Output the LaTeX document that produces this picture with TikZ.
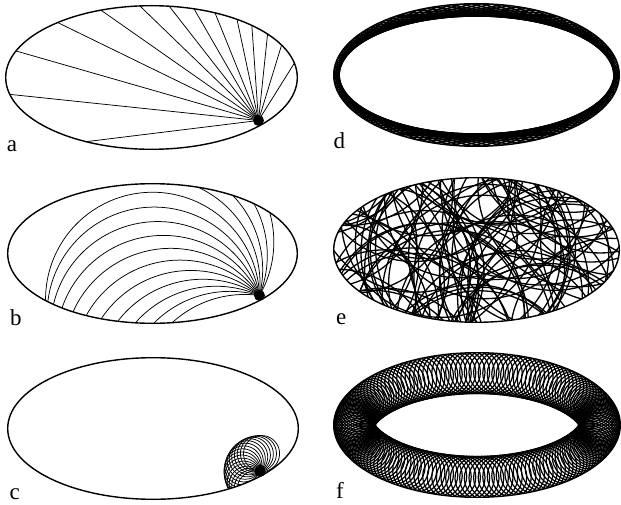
\documentclass[tikz,border=0pt]{standalone}
\usepackage{fontspec}
\setmainfont{Liberation Serif}

% trace one arc of radius #3 from the source (#1,#2), start heading #4,
% turning left, until it leaves the ellipse \A x \B
\newcommand{\tracearc}[4]{%
  \xdef\pts{(#1,#2)}\xdef\go{1}%
  \foreach \t in {2,4,...,360}{%
    \ifnum\go=1
      \pgfmathsetmacro\px{#1-#3*sin(#4)+#3*sin(#4+\t)}%
      \pgfmathsetmacro\py{#2+#3*cos(#4)-#3*cos(#4+\t)}%
      \pgfmathtruncatemacro\ins{(\px/\A)^2+(\py/\B)^2<1}%
      \xdef\pts{\pts -- (\px,\py)}\xdef\go{\ins}%
    \fi}%
  \edef\tmp{\noexpand\draw[orbit] \pts;}\tmp}

\begin{document}
\begin{tikzpicture}[x=1pt,y=1pt,
    rim/.style={line width=1.4pt},
    ray/.style={line width=0.75pt},
    orbit/.style={line width=0.75pt},
    gallery/.style={line width=1.5pt},
    tangle/.style={line width=1.3pt},
    skip/.style={line width=1.2pt},
    panel/.style={font=\fontsize{23}{23}\selectfont,anchor=base west,inner sep=0pt}
  ]
  \path[use as bounding box] (0,0) rectangle (621,504);

  % a: no field, straight rays
  \begin{scope}[shift={(151.5,426.5)}]
    \def\A{145.8}\def\B{71.8}
    \coordinate (srcA) at (107,-43);
    \begin{scope}
      \clip (0,0) ellipse[x radius=\A,y radius=\B];
      \foreach \h in {58,73,84,94,102,112,120,128,136,145,154,164,174,187}
        \draw[ray] (srcA) -- ++(\h:400);
    \end{scope}
    \draw[rim] (0,0) ellipse[x radius=\A,y radius=\B];
    \fill (srcA) circle[radius=5.5];
  \end{scope}
  \node[panel] (labA) at (6.7,352.3) {a};

  % b: weak field
  \begin{scope}[shift={(152.5,250.5)}]
    \def\A{144.8}\def\B{69.8}
    \coordinate (srcB) at (107,-42);
    \begin{scope}
      \clip (0,0) ellipse[x radius=\A,y radius=\B];
      \foreach \h in {60,68,...,172}{\tracearc{107}{-42}{107}{\h}}
    \end{scope}
    \draw[rim] (0,0) ellipse[x radius=\A,y radius=\B];
    \fill (srcB) circle[radius=5.5];
  \end{scope}
  \node[panel] (labB) at (10,179) {b};

  % c: strong field
  \begin{scope}[shift={(153,75.5)}]
    \def\A{145.3}\def\B{70.8}
    \coordinate (srcC) at (107,-43);
    \begin{scope}
      \clip (0,0) ellipse[x radius=\A,y radius=\B];
      \foreach \h in {-15,-5,...,165}{\tracearc{107}{-43}{18}{\h}}
    \end{scope}
    \draw[rim] (0,0) ellipse[x radius=\A,y radius=\B];
    \fill (srcC) circle[radius=5.5];
  \end{scope}
  \node[panel] (labC) at (9.3,4.5) {c};

  % d: whispering gallery
  \begin{scope}[shift={(476.5,429)}]
    \def\A{142.8}\def\B{71.3}
    \begin{scope}
      \clip (0,0) ellipse[x radius=\A,y radius=\B];
      \foreach \t in {0,3.6,...,356}
        \draw[gallery] ({137.2*cos(\t)+1.2*137.2*sin(\t)},{59*sin(\t)-1.2*59*cos(\t)})
          -- ({137.2*cos(\t)-1.2*137.2*sin(\t)},{59*sin(\t)+1.2*59*cos(\t)});
    \end{scope}
    \draw[rim] (0,0) ellipse[x radius=\A,y radius=\B];
  \end{scope}
  \node[panel] (labD) at (333.3,355.7) {d};

  % e: chaotic
  \begin{scope}[shift={(476.5,254)}]
    \def\A{142.8}\def\B{72.3}
    \pgfmathsetseed{21}
    \begin{scope}
      \clip (0,0) ellipse[x radius=\A,y radius=\B];
      \foreach \i in {1,...,85}{
        \pgfmathsetmacro\cx{330*rnd-165}
        \pgfmathsetmacro\cy{300*rnd-150}
        \draw[tangle] (\cx,\cy) circle[radius=100];
      }
    \end{scope}
    \draw[rim] (0,0) ellipse[x radius=\A,y radius=\B];
  \end{scope}
  \node[panel] (labE) at (336,180) {e};

  % f: skipping orbits
  \begin{scope}[shift={(477,79)}]
    \def\A{143.3}\def\B{72.3}
    \begin{scope}
      \clip (0,0) ellipse[x radius=\A,y radius=\B];
      \foreach \t in {0,2,...,358}{
        \pgfmathsetmacro\nn{sqrt((\B/100*cos(\t))^2+(\A/100*sin(\t))^2)}
        \draw[skip] ({\A*cos(\t)-19*\B*cos(\t)/(100*\nn)},{\B*sin(\t)-19*\A*sin(\t)/(100*\nn)})
          circle[radius=22];
      }
    \end{scope}
    \draw[rim] (0,0) ellipse[x radius=\A,y radius=\B];
  \end{scope}
  \node[panel] (labF) at (336,5.7) {f};
\end{tikzpicture}
\end{document}
